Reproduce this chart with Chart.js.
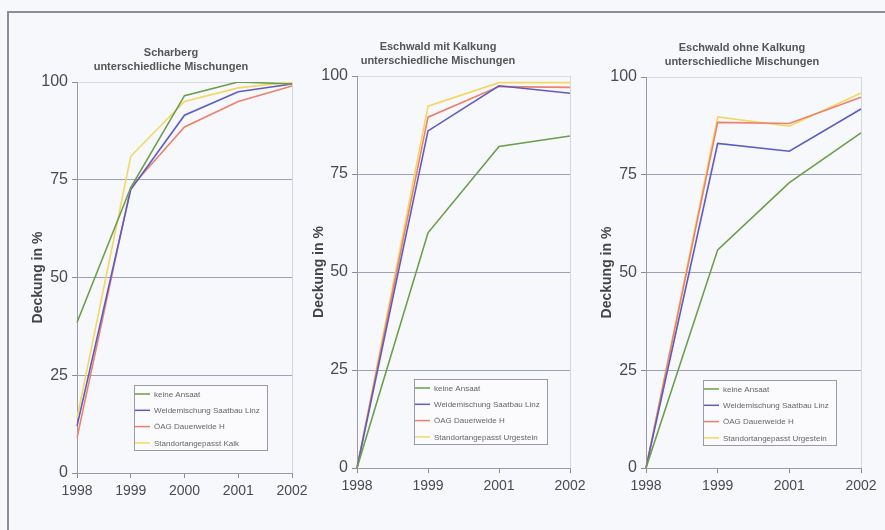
<!DOCTYPE html>
<html>
<head>
<meta charset="utf-8">
<script src="https://cdn.jsdelivr.net/npm/chart.js@4"></script>
<style>
  body { margin: 0; background: #f7f8fb; }
  #page { position: relative; width: 885px; height: 530px; overflow: hidden; }
  #frame { position: absolute; left: 7px; top: 11px; width: 890px; height: 540px;
           border-top: 2px solid #8c8c9c; border-left: 2px solid #8c8c9c; }
  .panel { position: absolute; top: 0; height: 530px; }
</style>
</head>
<body>
<div id="page">
  <div id="frame"></div>
  <div class="panel" style="left:0; width:320px"><canvas id="scharberg"></canvas></div>
  <div class="panel" style="left:290px; width:310px"><canvas id="mitKalk"></canvas></div>
  <div class="panel" style="left:585px; width:300px"><canvas id="ohneKalk"></canvas></div>
</div>
<script>
// Scharberg
const years1 = ['1998', '1999', '2000', '2001', '2002'];
const scharKeine = [38.5, 73, 96.5, 100, 99.5];
const scharWeide = [12, 72.5, 91.5, 97.5, 99.5];
const scharOeag = [9, 73, 88.5, 95, 99];
const scharStandort = [14, 81, 95, 98.5, 100];

// Eschwald mit Kalkung
const years2 = ['1998', '1999', '2001', '2002'];
const mitKeine = [0, 60, 82, 84.7];
const mitWeide = [0, 86, 97.5, 95.6];
const mitOeag = [0, 89.5, 97.3, 97.1];
const mitStandort = [0, 92.3, 98.3, 98.3];

// Eschwald ohne Kalkung
const ohneKeine = [0, 55.8, 73, 85.7];
const ohneWeide = [0, 83, 81, 91.8];
const ohneOeag = [0, 88.4, 88.1, 94.8];
const ohneStandort = [0, 89.8, 87.4, 95.9];

const yTicks = [0, 25, 50, 75, 100];

const colors = ['#6c9e4c', '#5c5cc4', '#f0806c', '#f2d862'];

// titles + legend box inside plot area
const decor = {
    id: 'decor',
    afterDraw(chart, args, opts) {
        const ctx = chart.ctx;
        const a = chart.chartArea;
        ctx.save();
        ctx.fillStyle = '#555';
        ctx.font = 'bold 11px "Liberation Sans", Arial, sans-serif';
        ctx.textAlign = 'center';
        ctx.textBaseline = 'middle';
        ctx.fillText(opts.title[0], opts.titleX, a.top - 29.5);
        ctx.fillText(opts.title[1], opts.titleX, a.top - 15);

        const bx = a.left + 57, by = a.top + 303, bw = 133, bh = 65;
        ctx.fillStyle = '#fbfbfd';
        ctx.fillRect(bx, by, bw, bh);
        ctx.strokeStyle = '#9a9aa8';
        ctx.lineWidth = 1;
        ctx.strokeRect(bx + 0.5, by + 0.5, bw, bh);
        ctx.font = '8px "Liberation Sans", Arial, sans-serif';
        ctx.textAlign = 'left';
        chart.data.datasets.forEach((ds, i) => {
            const ly = by + 9 + i * 16.3;
            ctx.strokeStyle = ds.borderColor;
            ctx.lineWidth = 1.5;
            ctx.beginPath();
            ctx.moveTo(bx + 1, ly);
            ctx.lineTo(bx + 16, ly);
            ctx.stroke();
            ctx.fillStyle = '#666';
            ctx.fillText(ds.label, bx + 20, ly + 0.5);
        });
        ctx.restore();
    }
};

function makeChart(id, labels, series, names, pad, yWidth, xHeight, titleLines, titleX) {
    const ctx = document.getElementById(id).getContext('2d');
    return new Chart(ctx, {
        type: 'line',
        data: {
            labels: labels,
            datasets: series.map((d, i) => ({
                label: names[i],
                data: d,
                borderColor: colors[i],
                backgroundColor: colors[i],
                borderWidth: 1.6,
                pointRadius: 0,
                tension: 0,
                fill: false,
            })),
        },
        plugins: [decor],
        options: {
            responsive: true,
            maintainAspectRatio: false,
            animation: false,
            layout: { padding: pad },
            plugins: {
                legend: { display: false },
                tooltip: { enabled: false },
                decor: { title: titleLines, titleX: titleX },
            },
            scales: {
                x: {
                    offset: false,
                    afterFit: (s) => { s.height = xHeight; },
                    grid: {
                        color: (c) => c.index === labels.length - 1 ? '#d4d6e0' : 'transparent',
                        tickColor: '#8a8a98',
                        tickLength: 5,
                    },
                    border: { color: '#9a9aa8', width: 1 },
                    ticks: {
                        autoSkip: false,
                        maxRotation: 0,
                        padding: 5,
                        color: '#4a4a55',
                        font: { family: '"Liberation Sans", Arial, sans-serif', size: 14 },
                    },
                },
                y: {
                    min: 0,
                    max: 100,
                    afterFit: (s) => { s.width = yWidth; },
                    afterBuildTicks: (s) => { s.ticks = yTicks.map(v => ({ value: v })); },
                    grid: {
                        color: (c) => {
                            const v = c.tick ? c.tick.value : null;
                            if (v === 0) return 'transparent';
                            if (v === 100) return '#d8dae4';
                            return '#9ea2b8';
                        },
                        tickColor: '#8a8a98',
                        tickLength: 5,
                    },
                    border: { color: '#9a9aa8', width: 1 },
                    ticks: {
                        padding: 4,
                        color: '#4a4a55',
                        font: { family: '"Liberation Sans", Arial, sans-serif', size: 16 },
                    },
                    title: {
                        display: true,
                        text: 'Deckung in %',
                        color: '#444',
                        padding: 0,
                        font: { family: '"Liberation Sans", Arial, sans-serif', size: 14, weight: 'bold' },
                    },
                },
            },
        },
    });
}

const namesKalk = ['keine Ansaat', 'Weidemischung Saatbau Linz', 'ÖAG Dauerweide H', 'Standortangepasst Kalk'];
const namesUrg = ['keine Ansaat', 'Weidemischung Saatbau Linz', 'ÖAG Dauerweide H', 'Standortangepasst Urgestein'];

makeChart('scharberg', years1, [scharKeine, scharWeide, scharOeag, scharStandort], namesKalk,
    { left: 30, right: 28, top: 82, bottom: 0 }, 47, 57,
    ['Scharberg', 'unterschiedliche Mischungen'], 171);

makeChart('mitKalk', years2, [mitKeine, mitWeide, mitOeag, mitStandort], namesUrg,
    { left: 21, right: 30, top: 76, bottom: 0 }, 46, 62,
    ['Eschwald mit Kalkung', 'unterschiedliche Mischungen'], 148);

makeChart('ohneKalk', years2, [ohneKeine, ohneWeide, ohneOeag, ohneStandort], namesUrg,
    { left: 14, right: 24, top: 77, bottom: 0 }, 47, 62,
    ['Eschwald ohne Kalkung', 'unterschiedliche Mischungen'], 157);
</script>
</body>
</html>
